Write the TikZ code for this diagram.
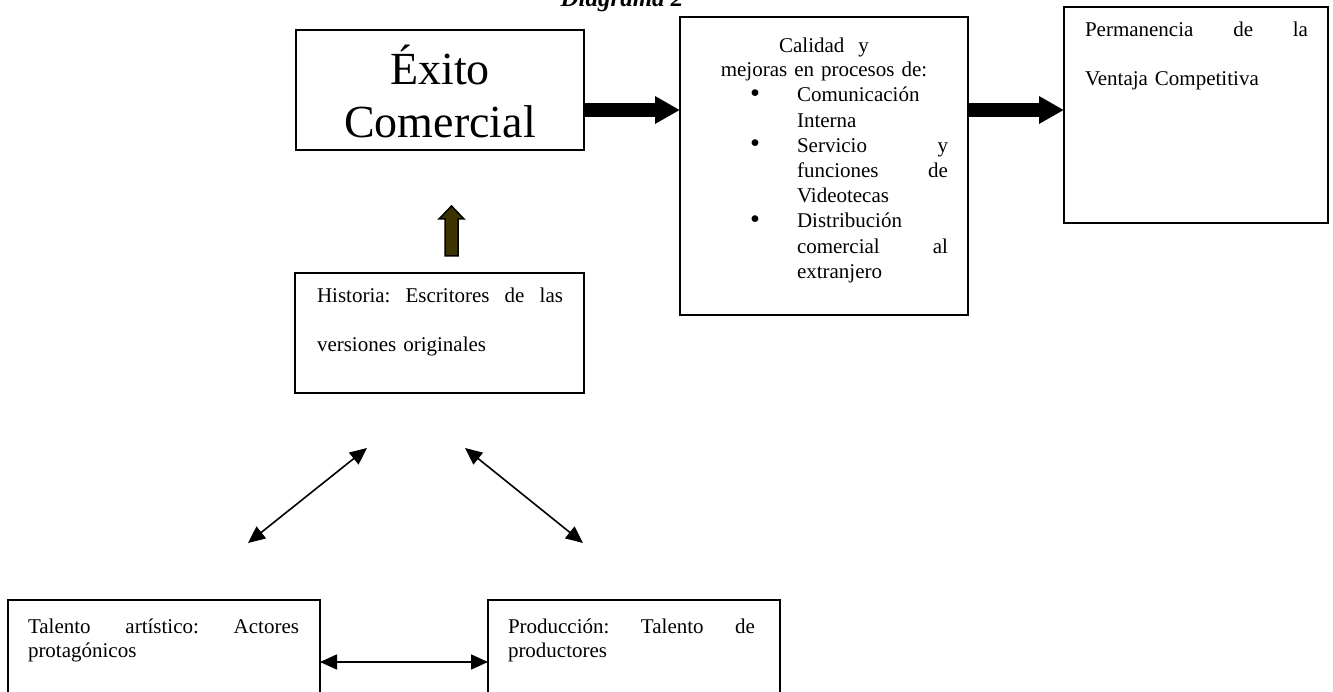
\documentclass[tikz,border=0pt]{standalone}
\usepackage{fontspec}
\setmainfont{Liberation Serif}
\usetikzlibrary{arrows.meta,calc}
\definecolor{olivefill}{RGB}{60,52,0}
\newcommand\fullline[2]{\leavevmode\hbox to #1{#2}}
\newcommand\bulletmark{\leavevmode\llap{\raisebox{-0.5pt}{\scalebox{1.35}{\textbullet}}\hspace{37pt}}}

\begin{document}
\begin{tikzpicture}[x=1pt,y=-1pt,
  box/.style={draw, line width=1.8pt, rectangle, outer sep=0pt, inner sep=0pt, anchor=north west},
  txt/.style={inner sep=0pt, outer sep=0pt, anchor=base west, align=left,
              font=\fontsize{21}{24}\selectfont},
  blockarrow/.style={line width=14pt, -{Triangle[length=25pt,width=26pt]}},
  dblarrow/.style={line width=1.6pt,
    {Triangle[length=17pt,width=15pt]}-{Triangle[length=17pt,width=15pt]}}]

\useasboundingbox (0,0) rectangle (1333,692);
\clip (0,0) rectangle (1333,692);

% title
\node[inner sep=0pt, anchor=base, font=\bfseries\itshape\fontsize{25}{30}\selectfont]
  (titulo) at (622,7) {Diagrama 2};

% boxes
\node[box, minimum width=288pt, minimum height=120pt] (exito)    at (296,30)  {};
\node[box, minimum width=288pt, minimum height=298pt] (calidad)  at (680,17)  {};
\node[box, minimum width=264pt, minimum height=216pt] (perm)     at (1064,7)  {};
\node[box, minimum width=289pt, minimum height=120pt] (hist)     at (295,273) {};
\node[box, minimum width=312pt, minimum height=130pt] (talento)  at (8,600)   {};
\node[box, minimum width=292pt, minimum height=130pt] (prod)     at (488,600) {};

% texts
\node[txt, anchor=base, align=center, text width=288pt, font=\fontsize{46}{53}\selectfont]
  (exitotxt) at (440,85) {Éxito\\Comercial};

\node[txt, anchor=base, align=center, text width=288pt]
  (calidadtxt) at (824,53) {Calidad\ \ y\\mejoras en procesos de:};

\node[txt, text width=151pt, font=\fontsize{21}{25.2}\selectfont] (lista) at (797,102) {%
  \bulletmark Comunicación\\
  Interna\\
  \bulletmark\fullline{151pt}{Servicio\hfill y}\\
  \fullline{151pt}{funciones\hfill de}\\
  Videotecas\\
  \bulletmark Distribución\\
  \fullline{151pt}{comercial\hfill al}\\
  extranjero};

\node[txt, text width=223pt, font=\fontsize{21}{49}\selectfont] (permtxt) at (1085,37)
  {\fullline{223pt}{Permanencia\hfill de\hfill la}\\Ventaja Competitiva};

\node[txt, text width=246pt, font=\fontsize{21}{49}\selectfont] (histtxt) at (317,303)
  {\fullline{246pt}{Historia:\hfill Escritores\hfill de\hfill las}\\versiones originales};

\node[txt, text width=271pt] (talentotxt) at (28,633)
  {\fullline{271pt}{Talento\hfill artístico:\hfill Actores}\\protagónicos};

\node[txt, text width=247pt] (prodtxt) at (508,633)
  {\fullline{247pt}{Producción:\hfill Talento\hfill de}\\productores};

% heavy arrows along the top row
\coordinate (lvl) at (0,110);
\draw[blockarrow] (exito.east |- lvl) -- (calidad.west |- lvl);
\draw[blockarrow] (calidad.east |- lvl) -- (perm.west |- lvl);

% upward block arrow
\draw[line width=1.5pt, fill=olivefill, line join=miter]
  (445,256) -- (445,219) -- (439,219) -- (451.5,206) -- (464,219) -- (458,219) -- (458,256) -- cycle;

% two-headed links
\coordinate (d1a) at (248,543);
\coordinate (d1b) at (367,448);
\coordinate (d2a) at (465,448);
\coordinate (d2b) at (583,543);
\draw[dblarrow] (d1a) -- (d1b);
\draw[dblarrow] (d2a) -- (d2b);

\coordinate (lvl2) at (0,662);
\draw[dblarrow] (talento.east |- lvl2) -- (prod.west |- lvl2);

\end{tikzpicture}
\end{document}
